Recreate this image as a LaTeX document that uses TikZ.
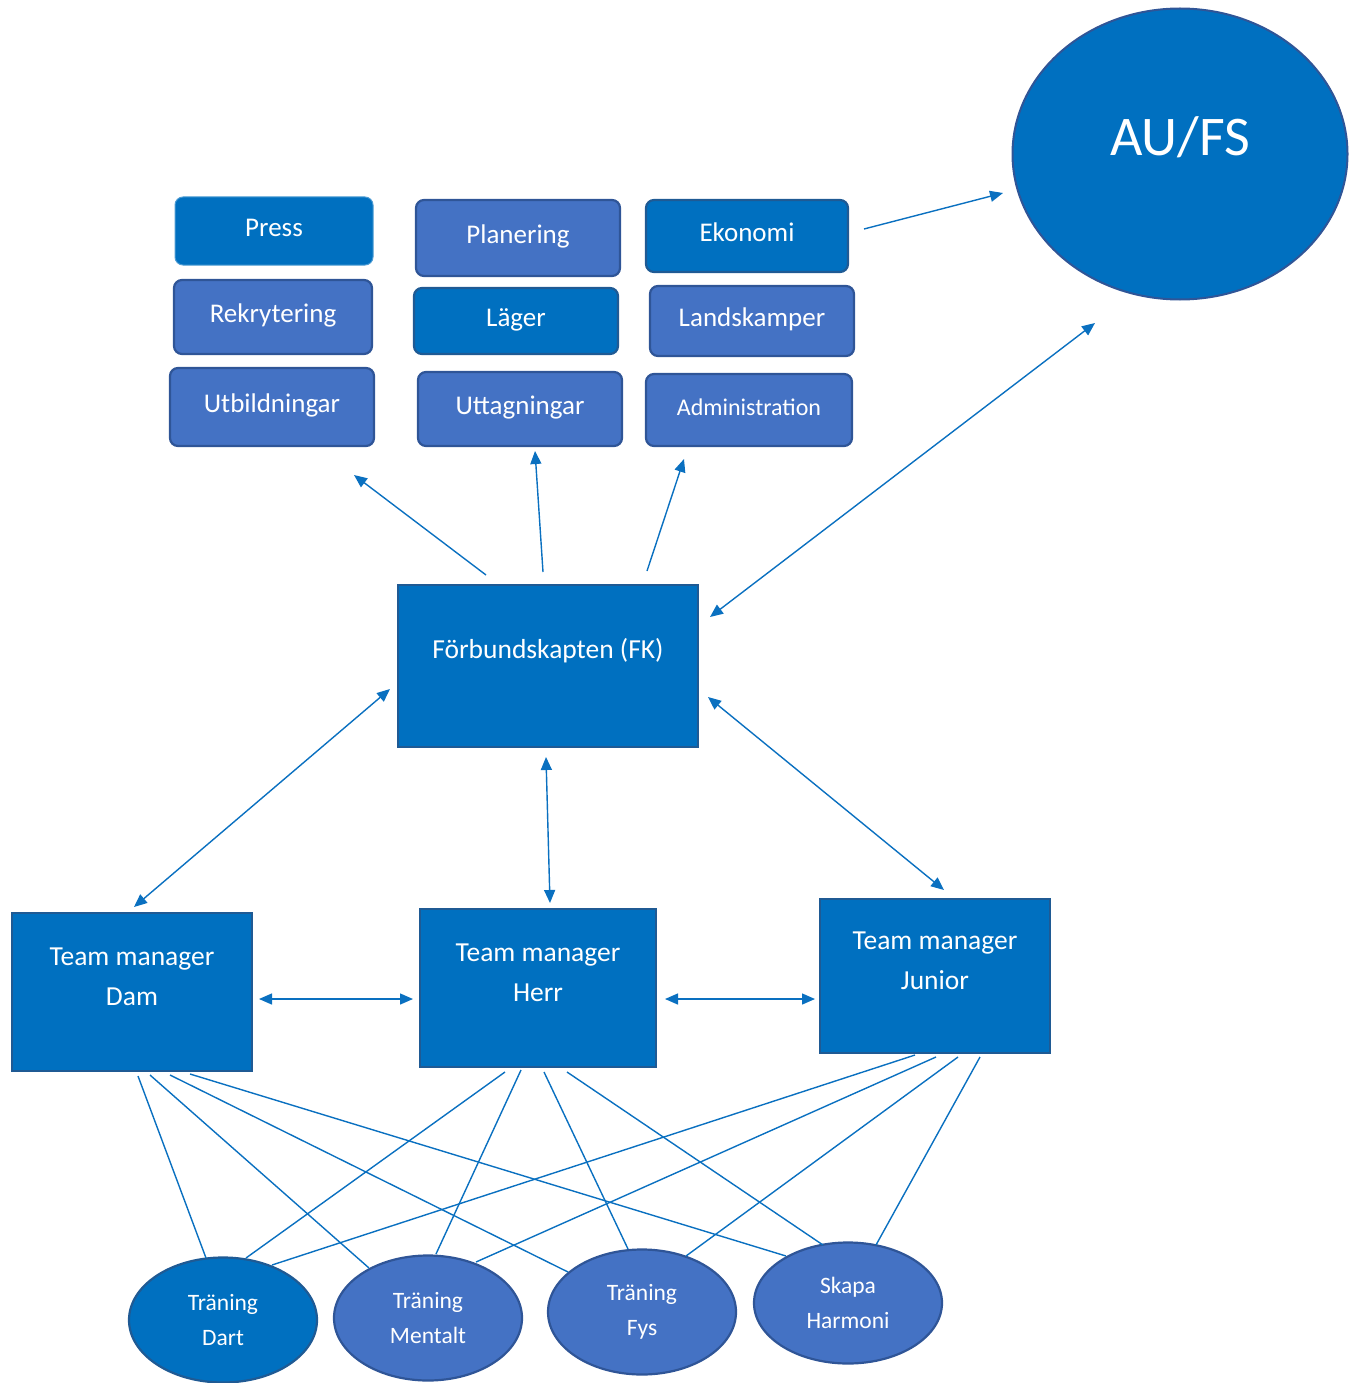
\documentclass[tikz,border=0pt]{standalone}
\usepackage{fontspec}
\setmainfont{Carlito}
\usetikzlibrary{shapes.geometric,arrows.meta}
\definecolor{dkblue}{HTML}{0070C0}
\definecolor{ltblue}{HTML}{4472C4}
\definecolor{dkedge}{HTML}{1F5A94}
\definecolor{ltedge}{HTML}{2F5597}
\definecolor{lnblue}{HTML}{0A70C0}
\tikzset{
  x=1pt,y=-1pt,
  taskdark/.style={rectangle,rounded corners=8pt,fill=dkblue,draw=dkedge,line width=2.2pt,inner sep=0pt,text=white,font=\fontsize{27}{32}\selectfont,text height=19pt,text depth=7.6pt},
  tasklight/.style={rectangle,rounded corners=8pt,fill=ltblue,draw=ltedge,line width=2.2pt,inner sep=0pt,text=white,font=\fontsize{27}{32}\selectfont,text height=19pt,text depth=7.6pt},
  bigbox/.style={rectangle,fill=dkblue,draw=dkedge,line width=2.5pt,inner sep=0pt},
  boxtext/.style={text=white,font=\fontsize{27.5}{40}\selectfont,align=center},
  roundel/.style={ellipse,draw=ltedge,line width=2.2pt,inner sep=0pt,text=white,align=center,font=\fontsize{23.5}{35}\selectfont,minimum width=188pt,minimum height=125pt},
  conn/.style={draw=lnblue,line width=1.4pt},
  tip/.style={-{Triangle[length=13pt,width=11pt]}},
  tips/.style={{Triangle[length=13pt,width=11pt]}-{Triangle[length=13pt,width=11pt]}}
}
\begin{document}
\begin{tikzpicture}
\useasboundingbox (0,0) rectangle (1355,1383);
% AU/FS
\node[ellipse,fill=dkblue,draw=ltedge,line width=2pt,minimum width=335pt,minimum height=291pt,inner sep=0pt] (au) at (1180,154) {};
\node[text=white,font=\fontsize{56}{60}\selectfont] (autext) at (1180,137) {AU/FS};
% task boxes
\node[taskdark,draw=dkblue!70!white,line width=1pt,minimum width=198pt,minimum height=68pt] (press) at (274,231) {Press};
\node[tasklight,minimum width=198pt,minimum height=74pt] (rekr) at (273,317) {Rekrytering};
\node[tasklight,minimum width=204pt,minimum height=78pt] (utb) at (272,407) {Utbildningar};
\node[tasklight,minimum width=204pt,minimum height=76pt] (plan) at (518,238) {Planering};
\node[taskdark,minimum width=204pt,minimum height=66pt] (lager) at (516,321) {Läger};
\node[tasklight,minimum width=204pt,minimum height=74pt] (utt) at (520,409) {Uttagningar};
\node[taskdark,minimum width=202pt,minimum height=72pt] (eko) at (747,236) {Ekonomi};
\node[tasklight,minimum width=204pt,minimum height=70pt] (land) at (752,321) {Landskamper};
\node[tasklight,minimum width=206pt,minimum height=72pt,font=\fontsize{24}{28}\selectfont] (adm) at (749,410) {Administration};
% FK and team managers
\node[bigbox,minimum width=300pt,minimum height=162pt] (fk) at (548,666) {};
\node[boxtext] (fktext) at (548,651) {Förbundskapten (FK)};
\node[bigbox,minimum width=240pt,minimum height=158pt] (dam) at (132,992) {};
\node[boxtext] (damtext) at (132,977) {Team manager\\Dam};
\node[bigbox,minimum width=236pt,minimum height=158pt] (herr) at (538,988) {};
\node[boxtext] (herrtext) at (538,973) {Team manager\\Herr};
\node[bigbox,minimum width=230pt,minimum height=154pt] (jun) at (935,976) {};
\node[boxtext] (juntext) at (935,961) {Team manager\\Junior};
% activity ellipses
\node[roundel,fill=dkblue,draw=dkedge] (dart) at (223,1320) {Träning\\Dart};
\node[roundel,fill=ltblue] (ment) at (428,1318) {Träning\\Mentalt};
\node[roundel,fill=ltblue] (fys) at (642,1312) {Träning\\Fys};
\node[roundel,fill=ltblue,minimum height=121pt] (harm) at (848,1303) {Skapa\\Harmoni};
% connector end points
\coordinate (ekoOut) at (864,229);
\coordinate (auIn1) at (1003,193);
\coordinate (fkAu) at (710,617);
\coordinate (auIn2) at (1095,323);
\coordinate (fkUtb) at (486,575);
\coordinate (utbIn) at (354,475);
\coordinate (fkUtt) at (543,572);
\coordinate (uttIn) at (535,451);
\coordinate (fkAdm) at (647,571);
\coordinate (admIn) at (684,459);
\coordinate (fkDam) at (390,689);
\coordinate (damTop) at (134,907);
\coordinate (fkHerr) at (546,757);
\coordinate (herrTop) at (550,903);
\coordinate (fkJun) at (708,697);
\coordinate (junTop) at (944,890);
\coordinate (damR) at (259,999);
\coordinate (herrL) at (413,999);
\coordinate (herrR) at (665,999);
\coordinate (junL) at (815,999);
% arrows
\draw[conn,tip] (ekoOut) -- (auIn1);
\draw[conn,tips] (fkAu) -- (auIn2);
\draw[conn,tip] (fkUtb) -- (utbIn);
\draw[conn,tip] (fkUtt) -- (uttIn);
\draw[conn,tip] (fkAdm) -- (admIn);
\draw[conn,tips] (fkDam) -- (damTop);
\draw[conn,tips] (fkHerr) -- (herrTop);
\draw[conn,tips] (fkJun) -- (junTop);
\draw[conn,tips] (damR) -- (herrL);
\draw[conn,tips] (herrR) -- (junL);
% lines from team managers to activities
\coordinate (d1) at (138,1076); \coordinate (d2) at (150,1075); \coordinate (d3) at (170,1075); \coordinate (d4) at (190,1074);
\coordinate (h1) at (505,1072); \coordinate (h2) at (521,1070); \coordinate (h3) at (544,1072); \coordinate (h4) at (567,1072);
\coordinate (j1) at (915,1055); \coordinate (j2) at (936,1057); \coordinate (j3) at (958,1057); \coordinate (j4) at (980,1057);
\coordinate (dartA) at (206,1258); \coordinate (dartB) at (246,1258); \coordinate (dartC) at (272,1265);
\coordinate (mentA) at (369,1268); \coordinate (mentB) at (436,1254); \coordinate (mentC) at (476,1262);
\coordinate (fysA) at (568,1272); \coordinate (fysB) at (628,1249); \coordinate (fysC) at (686,1256);
\coordinate (harmA) at (786,1256); \coordinate (harmB) at (823,1245); \coordinate (harmC) at (876,1245);
\draw[conn] (d1) -- (dartA);
\draw[conn] (d2) -- (mentA);
\draw[conn] (d3) -- (fysA);
\draw[conn] (d4) -- (harmA);
\draw[conn] (h1) -- (dartB);
\draw[conn] (h2) -- (mentB);
\draw[conn] (h3) -- (fysB);
\draw[conn] (h4) -- (harmB);
\draw[conn] (j1) -- (dartC);
\draw[conn] (j2) -- (mentC);
\draw[conn] (j3) -- (fysC);
\draw[conn] (j4) -- (harmC);
\end{tikzpicture}
\end{document}
